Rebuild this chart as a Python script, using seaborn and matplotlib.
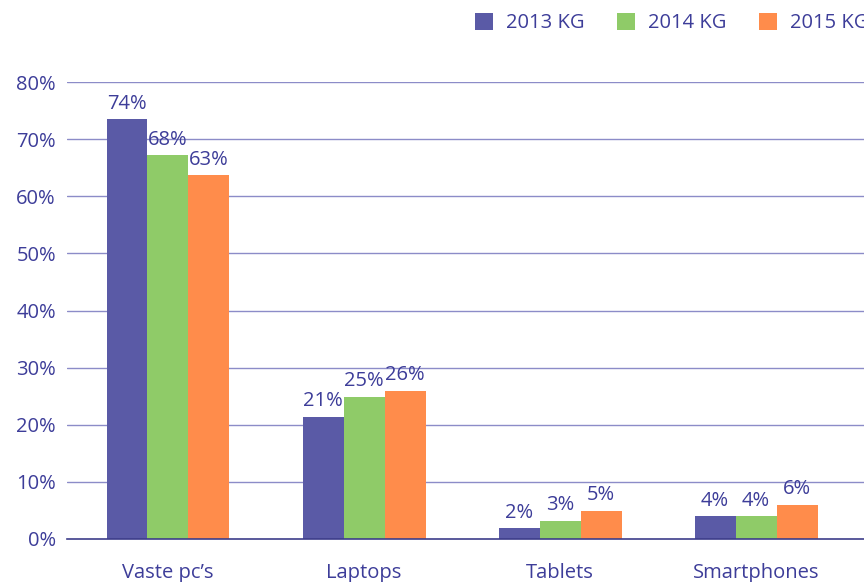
import matplotlib
matplotlib.use("Agg")
import matplotlib.pyplot as plt
import seaborn as sns
import pandas as pd
from matplotlib.patches import Patch

categories = ["Vaste pc\u2019s", "Laptops", "Tablets", "Smartphones"]
series = ["2013 KG", "2014 KG", "2015 KG"]
values_2013 = [73.5, 21.4, 1.9, 4.0]
values_2014 = [67.2, 24.9, 3.2, 4.0]
values_2015 = [63.7, 25.9, 4.9, 6.0]
labels_2013 = ["74%", "21%", "2%", "4%"]
labels_2014 = ["68%", "25%", "3%", "4%"]
labels_2015 = ["63%", "26%", "5%", "6%"]
yticks = [0, 10, 20, 30, 40, 50, 60, 70, 80]

colors = ["#5a5aa6", "#8fcb68", "#ff8c4b"]
text_color = "#3d3d99"
fs = 14.5

sns.set_theme(style="white")
plt.rcParams["font.family"] = ["Open Sans", "DejaVu Sans"]

rows = []
for s, vals in zip(series, [values_2013, values_2014, values_2015]):
    for c, v in zip(categories, vals):
        rows.append({"cat": c, "series": s, "value": v})
df = pd.DataFrame(rows)

fig = plt.figure(figsize=(8.64, 5.82), dpi=100)
ax = fig.add_axes([67 / 864, 1 - 539 / 582, 1 - 67 / 864, (539 - 82) / 582])

sns.barplot(data=df, x="cat", y="value", hue="series", order=categories,
            hue_order=series, palette=colors, width=0.627, gap=0,
            saturation=1, ax=ax, legend=False, edgecolor="none", linewidth=0)

for cont, labs in zip(ax.containers, [labels_2013, labels_2014, labels_2015]):
    ax.bar_label(cont, labels=labs, padding=4, fontsize=fs, color=text_color)

ax.set_ylim(0, 80)
ax.set_xlim(-0.515, 3.55)
ax.set_yticks(yticks)
ax.set_yticklabels([f"{t}%" for t in yticks])
ax.tick_params(axis="y", length=0, pad=8, labelsize=fs, labelcolor=text_color)
ax.tick_params(axis="x", length=0, pad=17.5, labelsize=fs, labelcolor=text_color)
ax.set_xlabel("")
ax.set_ylabel("")
for t in yticks[1:]:
    ax.axhline(t, color="#8c8cc8", lw=1, zorder=0)
for sp in ["top", "right", "left"]:
    ax.spines[sp].set_visible(False)
ax.spines["bottom"].set_color("#3d3d8a")
ax.spines["bottom"].set_linewidth(1.2)

handles = [Patch(facecolor=c, edgecolor="none") for c in colors]
fig.legend(handles, series, loc="upper left", bbox_to_anchor=(475 / 864, 1 - 13 / 582),
           ncol=3, frameon=False, fontsize=fs, handlelength=0.9, handleheight=0.9,
           handletextpad=0.65, columnspacing=1.6, borderpad=0, borderaxespad=0,
           labelcolor=text_color)

fig.savefig("out.png", dpi=100)
